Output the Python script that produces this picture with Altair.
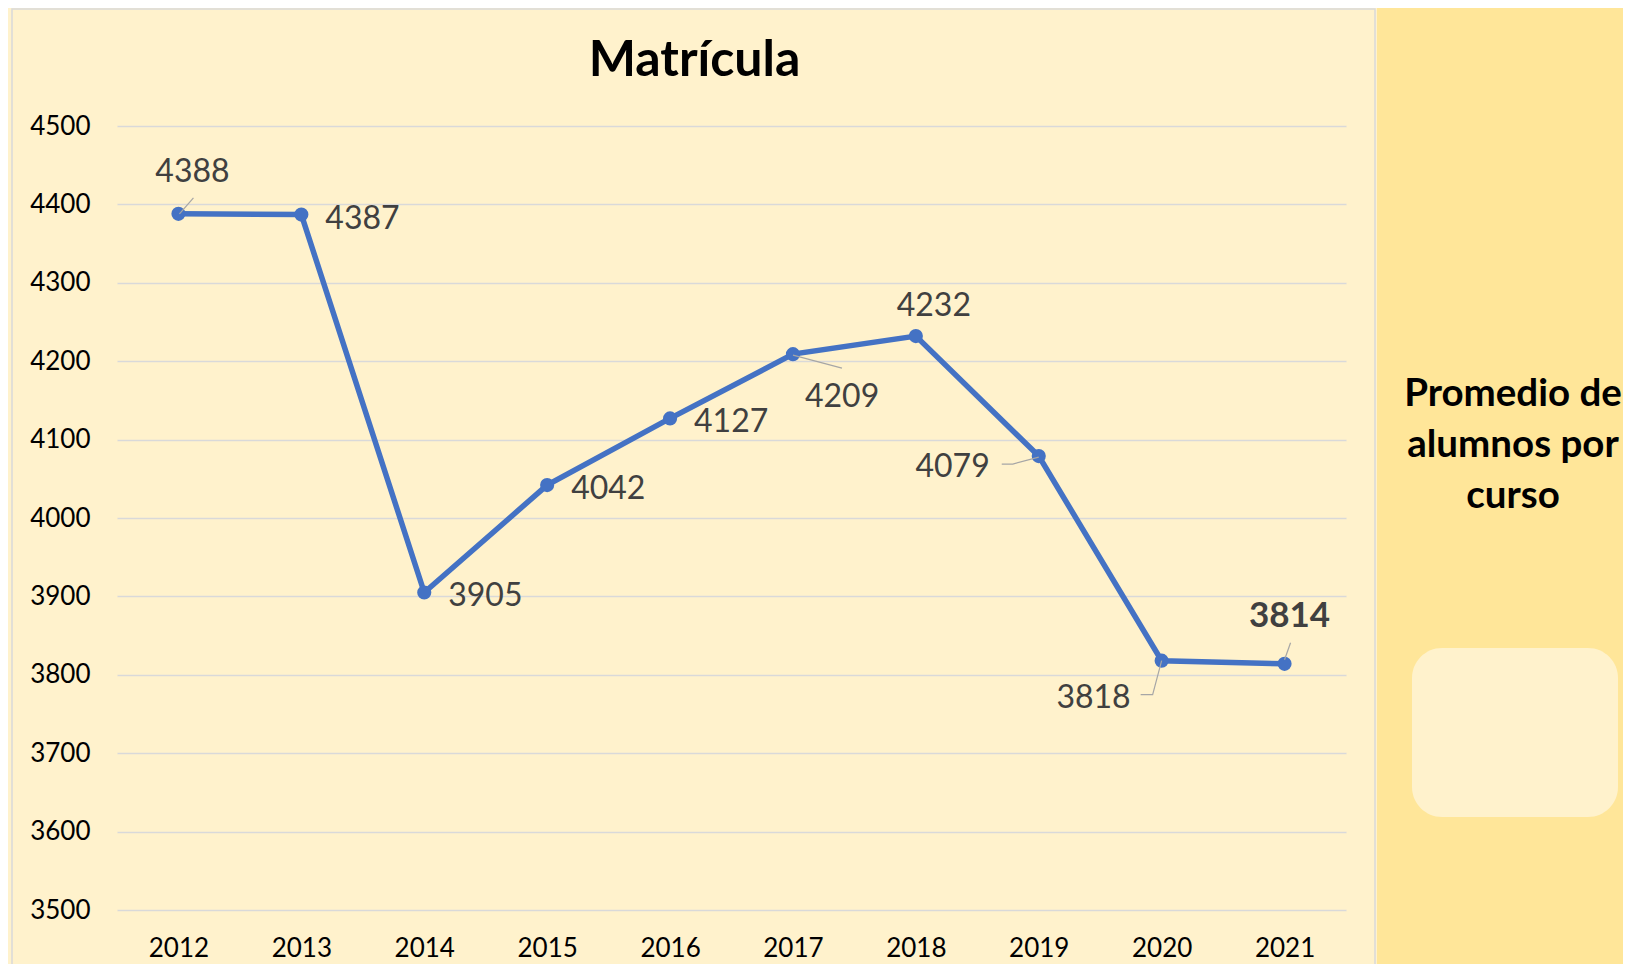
import altair as alt
import pandas as pd

# ---- data ----
years = ["2012", "2013", "2014", "2015", "2016", "2017", "2018", "2019", "2020", "2021"]
matricula = [4388, 4387, 3905, 4042, 4127, 4209, 4232, 4079, 3818, 3814]
y_ticks = [3500, 3600, 3700, 3800, 3900, 4000, 4100, 4200, 4300, 4400, 4500]
title_text = "Matrícula"
panel_lines = ["Promedio de", "alumnos por", "curso"]

df = pd.DataFrame({"year": years, "value": matricula})
decor = pd.DataFrame({"k": [0]})

W, H = 1229, 784
FONT = "Lato"
BLUE = "#4472C4"
LABEL_COLOR = "#404040"
LEADER = "#A6A6A6"

x = alt.X(
    "year:O",
    scale=alt.Scale(type="point", padding=0.5),
    axis=alt.Axis(title=None, labelAngle=0, labelFont=FONT, labelFontSize=26,
                  labelColor="#000000", labelPadding=25, ticks=False,
                  domain=False, grid=False),
)
y = alt.Y(
    "value:Q",
    scale=alt.Scale(domain=[3500, 4500], nice=False, zero=False),
    axis=alt.Axis(title=None, values=y_ticks, format="d", labelFont=FONT,
                  labelFontSize=26, labelColor="#000000", labelPadding=27,
                  ticks=False, domain=False, grid=True, gridColor="#D9D9D9",
                  gridWidth=1.5),
)

base = alt.Chart(df)

line = base.mark_line(color=BLUE, strokeWidth=5.5).encode(x=x, y=y)
dots = base.mark_circle(size=200, color=BLUE, opacity=1).encode(x=x, y=y)


def leader(year, path):
    return base.transform_filter(alt.datum.year == year).mark_point(
        shape=path, size=10000, filled=False, color=LEADER, strokeWidth=1.2,
        opacity=1
    ).encode(x=x, y=y)


def labels(sel, dx, dy, align, bold=False):
    return base.transform_filter(
        alt.FieldOneOfPredicate(field="year", oneOf=sel)
    ).mark_text(
        dx=dx, dy=dy, align=align, baseline="alphabetic", font=FONT,
        fontSize=35 if bold else 32, fontWeight="bold" if bold else "normal",
        color=LABEL_COLOR
    ).encode(x=x, y=y, text=alt.Text("value:Q", format="d"))


leaders = [
    leader("2012", "M0.02,0L0.3,-0.32"),
    leader("2017", "M0,0.02L0.98,0.28"),
    leader("2019", "M-0.74,0.16L-0.52,0.16L0,0.02"),
    leader("2020", "M0,0L-0.18,0.68L-0.42,0.68"),
    leader("2021", "M0,-0.08L0.12,-0.42"),
]

label_layers = [
    labels(["2012"], 14, -32, "center"),
    labels(["2013", "2014", "2015", "2016"], 24, 14, "left"),
    labels(["2017"], 12, 53, "left"),
    labels(["2018"], 18, -20, "center"),
    labels(["2019"], -49, 21, "right"),
    labels(["2020"], -31, 47, "right"),
    labels(["2021"], 5, -37, "center", bold=True),
]

dec = alt.Chart(decor)

border = dec.mark_rect(fill="transparent", stroke="#D9D9D9", strokeWidth=1.5).encode(
    x=alt.value(-105), x2=alt.value(1258), y=alt.value(-117), y2=alt.value(850)
)
right_panel = dec.mark_rect(fill="#FFE699").encode(
    x=alt.value(1260), x2=alt.value(1506), y=alt.value(-118), y2=alt.value(838)
)
box = dec.mark_rect(fill="#FFF2CC", cornerRadius=30).encode(
    x=alt.value(1295), x2=alt.value(1501), y=alt.value(522), y2=alt.value(691)
)
title = dec.mark_text(
    align="center", baseline="alphabetic", font=FONT, fontSize=50,
    fontWeight="bold", color="#000000"
).encode(x=alt.value(577.5), y=alt.value(-50), text=alt.value(title_text))

panel_text = [
    dec.mark_text(
        align="center", baseline="alphabetic", font=FONT, fontSize=38.5,
        fontWeight="bold", color="#000000"
    ).encode(x=alt.value(1396), y=alt.value(yy), text=alt.value(t))
    for t, yy in zip(panel_lines, [280, 331, 382])
]

chart = alt.layer(
    border, right_panel, box, title, *panel_text, line, dots, *leaders, *label_layers
).properties(
    width=W,
    height=H,
    autosize=alt.AutoSizeParams(type="none"),
    padding={"left": 109, "top": 118, "right": 277, "bottom": 54},
    background="#FFF2CC",
).configure_view(strokeWidth=0)

chart.save("out.html", embed_options={"renderer": "svg", "actions": False})
